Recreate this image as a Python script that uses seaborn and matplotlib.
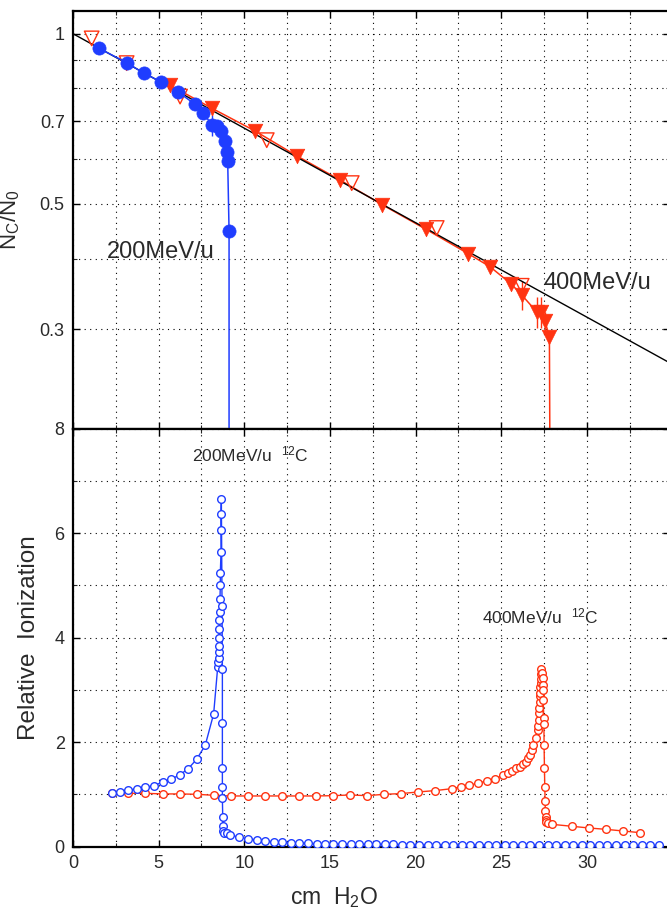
import matplotlib
matplotlib.use("Agg")
import matplotlib.pyplot as plt
import seaborn as sns
from matplotlib.ticker import FixedLocator, NullFormatter, MultipleLocator, FixedFormatter

# ---------------- data ----------------
# top panel: surviving fraction N_C/N_0
fit_x = [0.0, 34.85]
fit_y = [1.0, 0.2614]

c200_x = [1.52, 3.13, 4.14, 5.14, 6.15, 7.10, 7.61, 8.10, 8.43, 8.62, 8.87, 8.99, 9.03, 9.11]
c200_y = [0.942, 0.889, 0.851, 0.822, 0.788, 0.751, 0.725, 0.689, 0.687, 0.673, 0.646, 0.617, 0.595, 0.448]
c200_err = [0, 0, 0, 0, 0, 0, 0, 0.03, 0, 0, 0, 0, 0, 0]
c200_range = 9.11

c400_x = [5.66, 8.11, 10.62, 13.06, 15.59, 18.06, 20.59, 23.08, 24.34, 25.57, 26.19, 27.07, 27.32, 27.55, 27.81]
c400_y = [0.811, 0.738, 0.673, 0.608, 0.551, 0.498, 0.451, 0.408, 0.387, 0.361, 0.345, 0.322, 0.322, 0.310, 0.291]
c400_err = [0, 0.02, 0, 0, 0, 0, 0, 0, 0, 0, 0.02, 0.02, 0.02, 0.012, 0]
c400_range = 27.85

c400_open_x = [1.09, 3.13, 6.25, 11.31, 16.27, 21.23, 26.19]
c400_open_y = [0.981, 0.887, 0.774, 0.648, 0.544, 0.453, 0.358]

# bottom panel: relative ionization (Bragg curves)
ion200_x = [2.26, 2.74, 3.23, 3.72, 4.22, 4.73, 5.23, 5.72, 6.23, 6.73, 7.22, 7.72, 8.21,
            8.45, 8.49, 8.50, 8.51, 8.51, 8.52, 8.54, 8.55, 8.56, 8.58, 8.60, 8.60, 8.64, 8.64, 8.64, 8.66,
            8.70, 8.72, 8.72, 8.72, 8.72, 8.72, 8.74, 8.74, 8.74,
            8.81, 8.97, 9.17, 9.71, 10.24, 10.72, 11.23, 11.71, 12.22, 12.73, 13.21, 13.72, 14.23, 14.72,
            15.2, 15.7, 16.2, 16.7, 17.2, 17.7, 18.2, 18.7, 19.2, 19.7, 20.2, 20.7, 21.2, 21.7, 22.2, 22.7,
            23.2, 23.7, 24.2, 24.7, 25.2, 25.7, 26.2, 26.7, 27.2, 27.7, 28.2, 28.7, 29.2, 29.7, 30.2, 30.7,
            31.2, 31.7, 32.2, 32.7, 33.2, 33.7, 34.2]
ion200_y = [1.035, 1.04, 1.086, 1.105, 1.138, 1.169, 1.239, 1.291, 1.374, 1.494, 1.674, 1.942, 2.542,
            3.448, 3.544, 3.621, 3.730, 3.832, 3.992, 4.17, 4.33, 4.496, 4.745, 5.008, 5.231, 5.64, 6.06, 6.36, 6.655,
            4.598, 3.398, 2.364, 1.502, 1.149, 0.927, 0.575, 0.397, 0.307,
            0.269, 0.256, 0.224, 0.179, 0.154, 0.128, 0.109, 0.097, 0.084, 0.078, 0.072, 0.065, 0.059, 0.052,
            0.050, 0.049, 0.048, 0.047, 0.046, 0.045, 0.044, 0.043, 0.042, 0.041, 0.040, 0.040, 0.039, 0.038,
            0.037, 0.036, 0.036, 0.035, 0.034, 0.033, 0.033, 0.032, 0.031, 0.031, 0.030, 0.030, 0.029, 0.028,
            0.028, 0.027, 0.027, 0.026, 0.026, 0.025, 0.025, 0.024, 0.024, 0.023, 0.023]

ion400_x = [2.26, 3.23, 4.22, 5.23, 6.23, 7.22, 8.21, 9.2, 10.2, 11.19, 12.18, 13.19, 14.19, 15.2, 16.17,
            17.18, 18.17, 19.15, 20.16, 21.15, 22.14, 22.65, 23.14, 23.64, 24.15, 24.63, 25.12, 25.37, 25.63,
            25.86, 26.08, 26.25, 26.43, 26.58, 26.68, 26.77, 26.87, 27.01, 27.12, 27.14, 27.18, 27.2, 27.22,
            27.24, 27.26, 27.28, 27.29, 27.3, 27.31, 27.32, 27.34,
            27.4, 27.41, 27.42, 27.43, 27.45, 27.48, 27.49, 27.5, 27.52, 27.54, 27.56, 27.57, 27.59, 27.61,
            27.63, 27.73, 27.96, 29.15, 30.12, 31.12, 32.13, 33.12]
ion400_y = [1.022, 1.022, 1.022, 1.01, 1.01, 1.003, 0.984, 0.971, 0.971, 0.971, 0.971, 0.971, 0.971, 0.977, 0.99,
            0.977, 1.003, 1.016, 1.048, 1.074, 1.112, 1.15, 1.176, 1.214, 1.259, 1.303, 1.367, 1.418, 1.457,
            1.501, 1.533, 1.578, 1.629, 1.693, 1.757, 1.853, 1.942, 2.076, 2.236, 2.313, 2.428, 2.556, 2.658,
            2.76, 2.875, 2.951, 3.066, 3.13, 3.213, 3.309, 3.399,
            3.322, 3.226, 3.092, 2.99, 2.811, 2.46, 2.35, 1.942, 1.514, 1.15, 0.875, 0.69, 0.575, 0.511,
            0.473, 0.447, 0.428, 0.39, 0.358, 0.332, 0.30, 0.268]

top_yticks = [0.3, 0.5, 0.7, 1.0]
top_yticklabels = ["0.3", "0.5", "0.7", "1"]
top_yminor = [0.4, 0.6, 0.8, 0.9]

# ---------------- style ----------------
sns.set_theme(style="ticks")
plt.rcParams["font.family"] = ["Liberation Sans", "DejaVu Sans"]
plt.rcParams["mathtext.fontset"] = "custom"
plt.rcParams["mathtext.rm"] = "Liberation Sans"
plt.rcParams["mathtext.it"] = "Liberation Sans:italic"
plt.rcParams["mathtext.default"] = "rm"

BLUE = "#1f3dff"
RED = "#ff3311"
TXT = "#2a2a2a"
GRID = dict(color="black", linestyle=(0, (1, 4)), linewidth=0.8)

fig = plt.figure(figsize=(6.67, 9.09), dpi=100)
W, H = 667.0, 909.0
x0, x1 = 73, 670
top_t, mid, bot_b = 11, 428.7, 846.7
ax_top = fig.add_axes([x0 / W, (H - mid) / H, (x1 - x0) / W, (mid - top_t) / H])
ax_bot = fig.add_axes([x0 / W, (H - bot_b) / H, (x1 - x0) / W, (bot_b - mid) / H])

XMAX = 34.85
for ax in (ax_top, ax_bot):
    ax.set_xlim(0, XMAX)
    ax.xaxis.set_major_locator(MultipleLocator(5))
    ax.xaxis.set_minor_locator(MultipleLocator(2.5))
    ax.grid(True, which="both", **GRID)
    ax.set_axisbelow(True)
    for s in ("left", "top", "bottom"):
        ax.spines[s].set_linewidth(1.6)
        ax.spines[s].set_color("black")
    ax.spines["right"].set_linewidth(1.0)
    ax.tick_params(which="major", direction="in", length=5, width=1.0, top=True, right=True,
                   labelsize=13, colors="black", labelcolor=TXT)
    ax.tick_params(which="minor", direction="in", length=3, width=0.8, top=True, right=True)

# ---------------- top panel ----------------
ax_top.set_yscale("log")
ax_top.set_ylim(0.2, 1.097)
ax_top.yaxis.set_major_locator(FixedLocator(top_yticks))
ax_top.yaxis.set_major_formatter(FixedFormatter(top_yticklabels))
ax_top.yaxis.set_minor_locator(FixedLocator(top_yminor))
ax_top.yaxis.set_minor_formatter(NullFormatter())
ax_top.tick_params(axis="x", labelbottom=False)
ax_top.tick_params(axis="y", pad=6)

# 400 MeV/u line with drop at range
sns.lineplot(x=c400_x + [c400_range], y=c400_y + [0.15], sort=False, estimator=None,
             color=RED, linewidth=1.1, ax=ax_top, zorder=3)
ax_top.vlines(c400_x, [y - e for y, e in zip(c400_y, c400_err)],
              [y + e for y, e in zip(c400_y, c400_err)], color=RED, linewidth=1.0, zorder=3)
# exponential attenuation fit
sns.lineplot(x=fit_x, y=fit_y, sort=False, estimator=None, color="black", linewidth=1.0,
             ax=ax_top, zorder=4)
sns.scatterplot(x=c400_open_x, y=c400_open_y, marker="v", s=110, facecolor="none",
                edgecolor=RED, linewidth=1.0, ax=ax_top, zorder=4)
sns.scatterplot(x=c400_x, y=c400_y, marker="v", s=110, color=RED, edgecolor=RED,
                linewidth=0.5, ax=ax_top, zorder=6)

# 200 MeV/u
sns.lineplot(x=c200_x + [c200_range], y=c200_y + [0.15], sort=False, estimator=None,
             color=BLUE, linewidth=1.1, ax=ax_top, zorder=5)
ax_top.vlines(c200_x, [y - e for y, e in zip(c200_y, c200_err)],
              [y + e for y, e in zip(c200_y, c200_err)], color=BLUE, linewidth=1.0, zorder=5)
sns.scatterplot(x=c200_x, y=c200_y, marker="o", s=90, color=BLUE, edgecolor=BLUE,
                linewidth=0.5, ax=ax_top, zorder=7)

ax_top.text(2.0, 0.411, "200MeV/u", fontsize=17, ha="left", va="center", color=TXT)
ax_top.text(27.44, 0.362, "400MeV/u", fontsize=17, ha="left", va="center", color=TXT)

ax_top.set_ylabel(r"N$_{\rm C}$/N$_0$", fontsize=16, color=TXT)
ax_top.yaxis.set_label_coords((22 - x0) / (x1 - x0), 0.5)

# ---------------- bottom panel ----------------
ax_bot.set_ylim(0, 8)
ax_bot.yaxis.set_major_locator(MultipleLocator(2))
ax_bot.yaxis.set_minor_locator(MultipleLocator(1))
ax_bot.tick_params(axis="y", pad=6)
ax_bot.tick_params(axis="x", pad=6)

sns.lineplot(x=ion400_x, y=ion400_y, sort=False, estimator=None, color=RED, linewidth=1.0,
             marker="o", markersize=5.5, markerfacecolor="white", markeredgecolor=RED,
             markeredgewidth=1.0, ax=ax_bot, zorder=3)
sns.lineplot(x=ion200_x, y=ion200_y, sort=False, estimator=None, color=BLUE, linewidth=1.0,
             marker="o", markersize=5.5, markerfacecolor="white", markeredgecolor=BLUE,
             markeredgewidth=1.0, ax=ax_bot, zorder=4)

ax_bot.text(6.95, 7.5, r"200MeV/u  $^{12}$C", fontsize=12.5, ha="left", va="center", color=TXT)
ax_bot.text(23.86, 4.41, r"400MeV/u  $^{12}$C", fontsize=12.5, ha="left", va="center", color=TXT)

ax_bot.set_ylabel("Relative  Ionization", fontsize=17.5, color=TXT)
ax_bot.yaxis.set_label_coords((40 - x0) / (x1 - x0), 0.5)
ax_bot.set_xlabel(r"cm  H$_2$O", fontsize=16.5, color=TXT)
ax_bot.xaxis.set_label_coords((334 - x0) / (x1 - x0), -38 / (bot_b - mid))

fig.savefig("out.png", dpi=100)
